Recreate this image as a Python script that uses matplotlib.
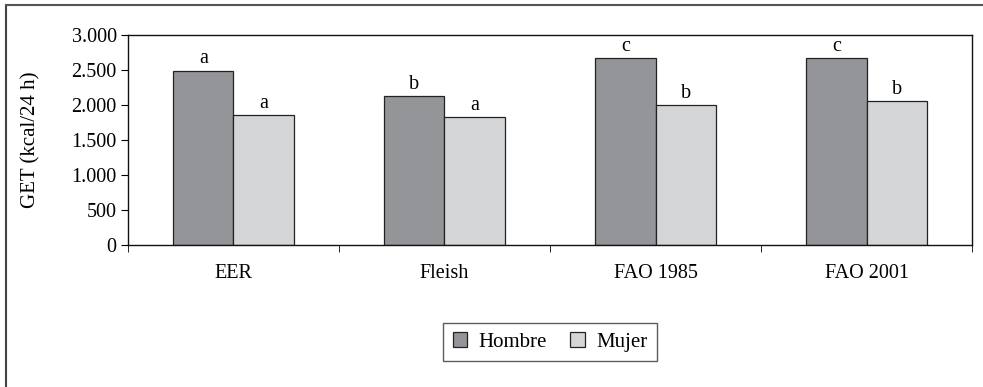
import numpy as np
import matplotlib.pyplot as plt
from matplotlib.lines import Line2D

plt.rcParams['font.family'] = ['Liberation Serif', 'DejaVu Serif']

categories = ["EER", "Fleish", "FAO 1985", "FAO 2001"]
hombre = [2490, 2130, 2670, 2670]
mujer = [1860, 1830, 2000, 2055]
letras_hombre = ["a", "b", "c", "c"]
letras_mujer = ["a", "a", "b", "b"]
yticks = [0, 500, 1000, 1500, 2000, 2500, 3000]
ytick_labels = ["0", "500", "1.000", "1.500", "2.000", "2.500", "3.000"]

fig = plt.figure(figsize=(9.83, 3.87), dpi=100)
ax = fig.add_axes([0.130, 0.367, 0.859, 0.543])

x = np.arange(len(categories))
w = 0.285
b1 = ax.bar(x - w/2, hombre, w, color="#949598", edgecolor="#222222", linewidth=0.9, label="Hombre")
b2 = ax.bar(x + w/2, mujer, w, color="#d4d5d7", edgecolor="#222222", linewidth=0.9, label="Mujer")

for xi, v, t in zip(x - w/2, hombre, letras_hombre):
    ax.text(xi, v + 30, t, ha="center", va="bottom", fontsize=14.5)
for xi, v, t in zip(x + w/2, mujer, letras_mujer):
    ax.text(xi, v + 30, t, ha="center", va="bottom", fontsize=14.5)

ax.set_xlim(-0.5, len(categories) - 0.5)
ax.set_ylim(0, 3000)
ax.set_yticks(yticks)
ax.set_yticklabels(ytick_labels, fontsize=14.5)
ax.set_xticks(x)
ax.set_xticklabels(categories, fontsize=14.5)
ax.tick_params(axis="x", length=0, pad=14)
ax.set_xticks(np.arange(len(categories) + 1) - 0.5, minor=True)
ax.tick_params(axis="x", which="minor", length=5, direction="out")
ax.tick_params(axis="y", length=5, direction="out", pad=3)
ax.set_ylabel("GET (kcal/24 h)", fontsize=15, labelpad=22)
for s in ax.spines.values():
    s.set_linewidth(1.0)
    s.set_color("#111111")

leg = fig.legend(handles=[b1, b2], loc="center", bbox_to_anchor=(550/983, 1 - 342/387),
                 ncol=2, fontsize=15, frameon=True, fancybox=False, edgecolor="#333333",
                 handlelength=0.7, handleheight=0.7, columnspacing=1.1, handletextpad=0.55,
                 borderpad=0.45, borderaxespad=0)
leg.get_frame().set_linewidth(1.0)

# outer frame: only top and left edges show
fig.lines.append(Line2D([6/983, 6/983], [0, 1 - 5/387], transform=fig.transFigure,
                        color="#444444", linewidth=1.5))
fig.lines.append(Line2D([6/983, 1], [1 - 5/387, 1 - 5/387], transform=fig.transFigure,
                        color="#555555", linewidth=1.5))

fig.savefig("out.png", dpi=100)
